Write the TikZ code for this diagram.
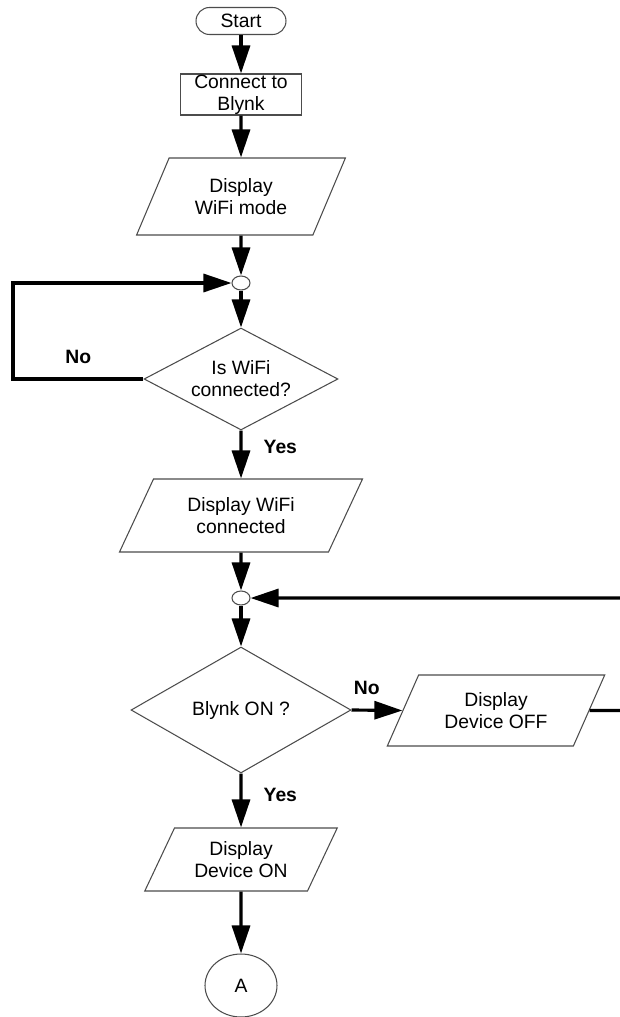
\documentclass[tikz,border=0pt]{standalone}
\usepackage{fontspec}
\setmainfont{Liberation Sans}
\usetikzlibrary{shapes.geometric,arrows.meta}
\begin{document}
\begin{tikzpicture}
[x=0.02cm,y=-0.02cm,
  boxdecorate/.style={draw=black!70,line width=0.6pt,fill=white,inner sep=0pt,
    align=center,font=\fontsize{11}{12.5}\selectfont},
  termdecorate/.style={boxdecorate,rectangle,rounded corners=0.27cm,
    minimum width=1.8cm,minimum height=0.54cm},
  procdecorate/.style={boxdecorate,rectangle,minimum width=2.42cm,minimum height=0.82cm},
  iodecorate/.style={boxdecorate,trapezium,trapezium left angle=60,
    trapezium right angle=120,trapezium stretches=true},
  decidedecorate/.style={boxdecorate,diamond,aspect=2},
  joindecorate/.style={draw=black!70,line width=0.6pt,fill=white,ellipse,
    inner sep=0pt,minimum width=0.36cm,minimum height=0.28cm},
  arrowdecorate/.style={-{Triangle[length=0.56cm,width=0.36cm]},line width=1.8pt},
  labeldecorate/.style={font=\fontsize{11}{13}\selectfont\bfseries,inner sep=2pt}]
\useasboundingbox (0,0) rectangle (619,1017);
%% nodes or vertices
\node (start) at (241,21) [termdecorate] {Start};
\node (connect) at (241,94.5) [procdecorate] {Connect to\\Blynk};
\node (showmode) at (241,196.5) [iodecorate,minimum width=4.18cm,minimum height=1.54cm]
  {Display\\WiFi mode};
\node (wifijoin) at (241,283) [joindecorate] {};
\node (wificheck) at (241,379) [decidedecorate,minimum width=3.88cm,minimum height=2.04cm]
  {Is WiFi\\connected?};
\node (showconn) at (241,515.5) [iodecorate,minimum width=4.9cm,minimum height=1.46cm]
  {Display WiFi\\connected};
\node (blynkjoin) at (241,598) [joindecorate] {};
\node (blynkcheck) at (241,710) [decidedecorate,minimum width=4.4cm,minimum height=2.52cm]
  {Blynk ON ?};
\node (showoff) at (496,710.5) [iodecorate,minimum width=4.36cm,minimum height=1.42cm]
  {Display\\Device OFF};
\node (showon) at (241,859.5) [iodecorate,minimum width=3.88cm,minimum height=1.26cm]
  {Display\\Device ON};
\node (conA) at (241,985.5) [boxdecorate,ellipse,minimum width=1.44cm,minimum height=1.26cm] {A};
\coordinate (wifiloop) at (13,379);
\coordinate (offloop) at (626,710.5);
%% edges or lines
\path
\foreach \startnode/\endnode in {start/connect, connect/showmode, showmode/wifijoin,
  wifijoin/wificheck, showconn/blynkjoin, blynkjoin/blynkcheck, showon/conA}
{
  (\startnode) edge[arrowdecorate] (\endnode)
};
\draw[arrowdecorate] (wificheck.south) -- node[labeldecorate,pos=0.35,right=10pt] {Yes} (showconn.north);
\draw[arrowdecorate] (blynkcheck.south) -- node[labeldecorate,pos=0.4,right=10pt] {Yes} (showon.north);
\draw[arrowdecorate] (blynkcheck.east) -- node[labeldecorate,pos=0.3,above=6pt] {No} (showoff.west);
\draw[arrowdecorate] (wificheck.west) -- node[labeldecorate,midway,above=6pt] {No} (wifiloop) |- (wifijoin.west);
\draw[arrowdecorate] (showoff.east) -- (offloop) |- (blynkjoin.east);
\end{tikzpicture}
\end{document}
